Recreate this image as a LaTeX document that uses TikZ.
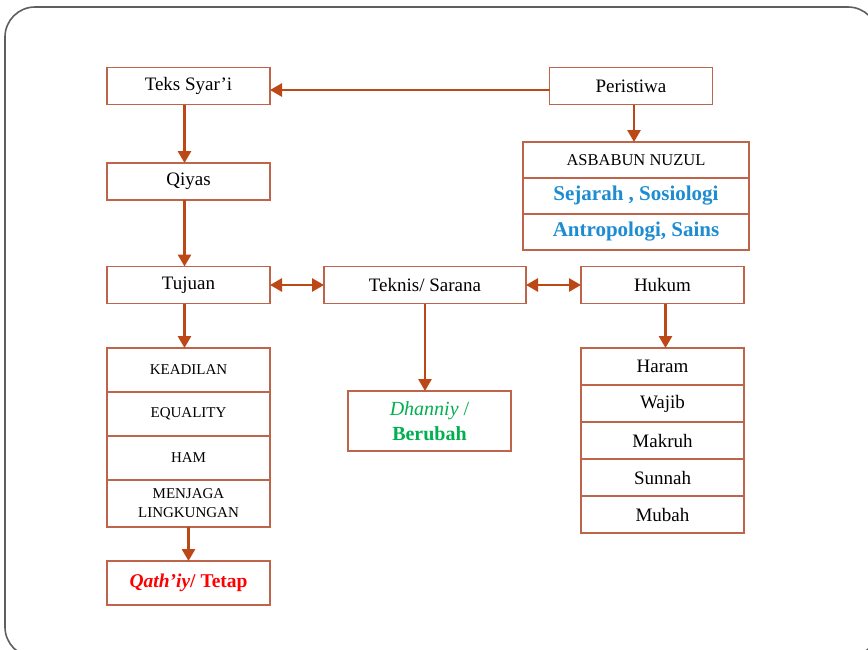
\documentclass[tikz,border=0pt]{standalone}
\usepackage{fontspec}
\setmainfont{Liberation Serif}
\usetikzlibrary{positioning,arrows.meta}
\definecolor{boxline}{RGB}{190,100,75}
\definecolor{arrowline}{RGB}{188,72,24}
\definecolor{frameline}{RGB}{95,95,95}
\definecolor{sciblue}{RGB}{30,140,210}
\definecolor{dgreen}{RGB}{0,176,80}

\begin{document}
\begin{tikzpicture}[x=1pt,y=-1pt,node distance=0pt,outer sep=0pt,
  box/.style={
    draw=boxline,
    line width=1.5pt,
    fill=white,
    minimum width=163pt,
    minimum height=37pt,
    inner sep=0pt,
    align=center,
    font={\fontsize{19}{21}\selectfont},
    },
  capbox/.style={box,font={\fontsize{15}{19}\selectfont}},
  scibox/.style={box,minimum width=226pt,minimum height=36pt,
    font={\fontsize{21}{23}\selectfont\bfseries\color{sciblue}}},
  link/.style={draw=arrowline,line width=2.8pt,-{Triangle[length=12pt,width=13pt]}},
  twolink/.style={link,{Triangle[length=12pt,width=13pt]}-{Triangle[length=12pt,width=13pt]}},
  ]

  \useasboundingbox (0,0) rectangle (868,649);
  \draw[frameline,line width=1.6pt,rounded corners=30pt] (5,7) rectangle (878,657);

  \node[box] (teks) at (188.5,86) {Teks Syar’i};
  \node[box] (peristiwa) at (631,86) {Peristiwa};

  \node[capbox, minimum width=226pt, minimum height=36pt, font={\fontsize{16.5}{19}\selectfont}] (asbab) at (636,160) {ASBABUN NUZUL};
  \node[scibox, below=of asbab] (sejarah) {Sejarah , Sosiologi};
  \node[scibox, below=of sejarah] (antro) {Antropologi, Sains};

  \node[box] (qiyas) at (188.5,181.5) {Qiyas};
  \node[box] (tujuan) at (188.5,285) {Tujuan};
  \node[box, minimum width=202pt] (teknis) at (425,285) {Teknis/ Sarana};
  \node[box] (hukum) at (662.5,285) {Hukum};

  \node[capbox, minimum height=44pt] (keadilan) at (188.5,370) {KEADILAN};
  \node[capbox, minimum height=44pt, below=of keadilan] (equality) {EQUALITY};
  \node[capbox, minimum height=44pt, below=of equality] (ham) {HAM};
  \node[capbox, minimum height=47pt, below=of ham] (menjaga) {MENJAGA\\LINGKUNGAN};

  \node[box, minimum height=44pt, font={\fontsize{19.5}{21}\selectfont\bfseries\color{red}}] (qath) at (188.5,583) {\textit{Qath’iy}/ Tetap};

  \node[box, minimum height=60pt, font={\fontsize{20}{25}\selectfont\color{dgreen}}] (dhanniy) at (429.5,421) {\textit{Dhanniy} /\\\textbf{Berubah}};

  \node[box] (haram) at (662.5,366.5) {Haram};
  \node[box, below=of haram] (wajib) {Wajib};
  \node[box, below=of wajib] (makruh) {Makruh};
  \node[box, below=of makruh] (sunnah) {Sunnah};
  \node[box, below=of sunnah] (mubah) {Mubah};

  \draw[link] ([yshift=-4pt]peristiwa.west) -- ([yshift=-4pt]teks.east);
  \draw[link] ([xshift=3pt]peristiwa.south) -- ([xshift=3pt]peristiwa.south |- asbab.north);
  \draw[link] ([xshift=-4pt]teks.south) -- ([xshift=-4pt]qiyas.north);
  \draw[link] ([xshift=-4pt]qiyas.south) -- ([xshift=-4pt]tujuan.north);
  \draw[link] ([xshift=-4pt]tujuan.south) -- ([xshift=-4pt]keadilan.north);
  \draw[link] (menjaga) -- (qath);
  \draw[twolink] (tujuan) -- (teknis);
  \draw[twolink] (teknis) -- (hukum);
  \draw[link] (teknis.south) -- (teknis.south |- dhanniy.north);
  \draw[link] ([xshift=3pt]hukum.south) -- ([xshift=3pt]haram.north);

\end{tikzpicture}
\end{document}
